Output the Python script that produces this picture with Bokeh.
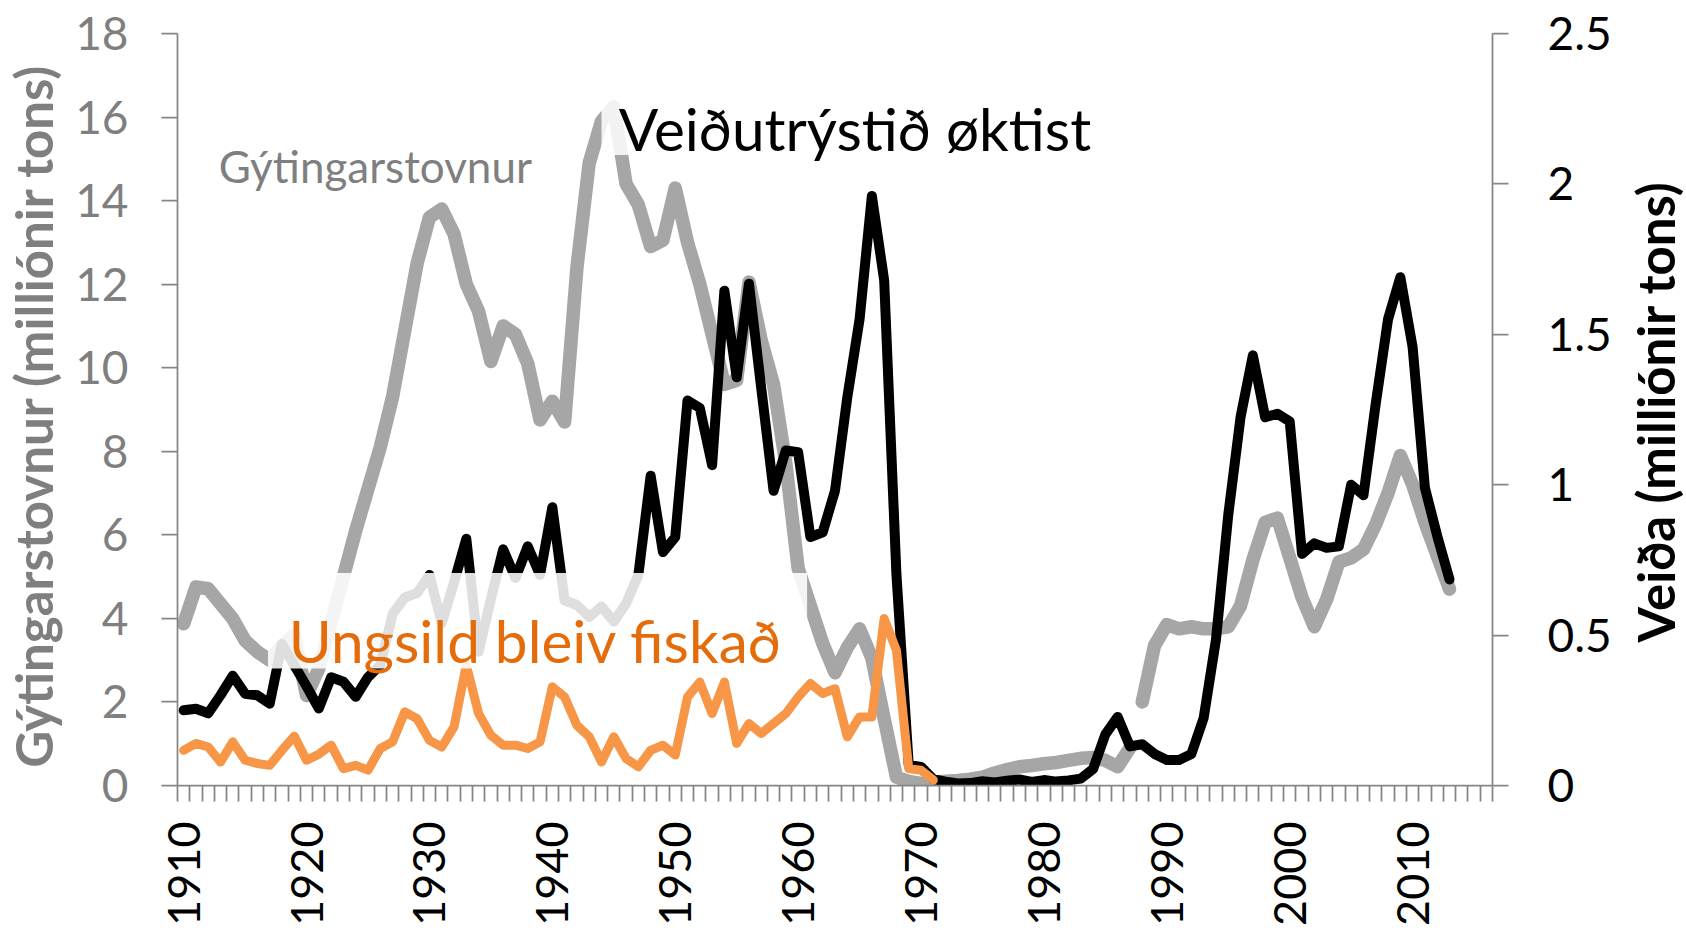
import math
from bokeh.plotting import figure
from bokeh.layouts import row
from bokeh.models import Range1d, LinearAxis, FixedTicker, Label, BoxAnnotation
from bokeh.embed import file_html
from bokeh.resources import INLINE

# ---------------- data ----------------
years = list(range(1910, 2014))

# Spawning stock (Gýtingarstovnur), million tonnes, left axis
stock = [
    3.87, 4.75, 4.71, 4.35, 3.99, 3.47, 3.20, 3.0, 3.35, 3.6,      # 1910-1919
    2.15, 2.8, 3.9, 5.0, 6.1, 7.1, 8.1, 9.3, 10.9, 12.5,           # 1920-1929
    13.6, 13.8, 13.2, 12.0, 11.35, 10.15, 11.0, 10.8, 10.1, 8.75,  # 1930-1939
    9.2, 8.7, 12.4, 14.9, 15.9, 16.25, 14.4, 13.9, 12.9, 13.05,    # 1940-1949
    14.3, 13.0, 12.0, 10.8, 9.6, 9.7, 12.05, 10.65, 9.6, 7.7,      # 1950-1959
    5.2, 4.3, 3.4, 2.7, 3.3, 3.75, 3.05, 1.6, 0.2, 0.1,            # 1960-1969
    0.05, 0.08, 0.1, 0.12, 0.15, 0.2, 0.3, 0.38, 0.45, 0.48,       # 1970-1979
    0.52, 0.55, 0.6, 0.65, 0.67, 0.6, 0.45, 0.9, 2.0, 3.35,        # 1980-1989
    3.85, 3.75, 3.8, 3.75, 3.75, 3.8, 4.3, 5.4, 6.3, 6.4,          # 1990-1999
    5.45, 4.5, 3.8, 4.45, 5.35, 5.45, 5.65, 6.25, 7.0, 7.9,        # 2000-2009
    7.2, 6.3, 5.5, 4.7,                                            # 2010-2013
]
stock_break_year = 1988  # the stock series restarts here (gap in the line)

# Catch (Veiða), million tonnes, right axis
catch = [
    0.25, 0.255, 0.24, 0.30, 0.365, 0.305, 0.30, 0.272, 0.47, 0.40,
    0.33, 0.256, 0.36, 0.345, 0.295, 0.36, 0.40, 0.57, 0.625, 0.64,
    0.70, 0.54, 0.675, 0.82, 0.445, 0.62, 0.785, 0.69, 0.795, 0.70,
    0.925, 0.615, 0.60, 0.56, 0.595, 0.545, 0.605, 0.70, 1.03, 0.776,
    0.826, 1.28, 1.255, 1.065, 1.645, 1.357, 1.668, 1.32, 0.98, 1.114,
    1.108, 0.826, 0.842, 0.98, 1.29, 1.55, 1.96, 1.68, 0.70, 0.068,
    0.062, 0.021, 0.013, 0.007, 0.008, 0.014, 0.01, 0.016, 0.02, 0.012,
    0.018, 0.013, 0.017, 0.023, 0.055, 0.17, 0.228, 0.13, 0.137, 0.105,
    0.085, 0.085, 0.105, 0.225, 0.485, 0.9, 1.225, 1.43, 1.224, 1.236,
    1.21, 0.77, 0.805, 0.79, 0.795, 1.0, 0.965, 1.27, 1.55, 1.69,
    1.457, 0.99, 0.83, 0.685,
]

# Juvenile catch (Ungsild), million tonnes, right axis
juv_years = list(range(1910, 1972))
juv_catch = [
    0.117, 0.14, 0.128, 0.078, 0.145, 0.084, 0.073, 0.067, 0.117, 0.164,
    0.084, 0.104, 0.134, 0.056, 0.067, 0.051, 0.123, 0.145, 0.245, 0.222,
    0.15, 0.128, 0.195, 0.40, 0.239, 0.167, 0.134, 0.134, 0.123, 0.145,
    0.328, 0.294, 0.20, 0.162, 0.078, 0.162, 0.09, 0.062, 0.117, 0.134,
    0.101, 0.294, 0.344, 0.239, 0.344, 0.14, 0.206, 0.173, 0.206, 0.239,
    0.294, 0.339, 0.306, 0.322, 0.162, 0.228, 0.228, 0.555, 0.449, 0.056,
    0.051, 0.018,
]

left_ticks = [0, 2, 4, 6, 8, 10, 12, 14, 16, 18]
right_ticks = [0, 0.5, 1, 1.5, 2, 2.5]
right_tick_labels = ["0", "0.5", "1", "1.5", "2", "2.5"]
decade_ticks = list(range(1910, 2011, 10))
first_year, last_cat_year = 1910, 2016

left_title = "Gýtingarstovnur  (milliónir tons)"
right_title = "Veiða (milliónir tons)"
note_stock = "Gýtingarstovnur"
note_pressure = "Veiðutrýstið øktist"
note_juvenile = "Ungsild bleiv fiskað"

# ---------------- styling ----------------
FONT = "Lato"
AX = "#868686"
GRAY_TXT = "#7F7F7F"
GRAY_LINE = "#A6A6A6"
ORANGE_LINE = "#F79646"
ORANGE_TXT = "#E46C0A"

BT, BB = 33, 145   # top / bottom borders shared by both panels

p = figure(width=1614, height=930,
           x_range=Range1d(first_year - 0.5, last_cat_year + 0.5),
           y_range=Range1d(0, 18),
           output_backend="svg", toolbar_location=None,
           min_border_left=177, min_border_right=120,
           min_border_top=BT, min_border_bottom=BB)
p.extra_y_ranges = {"catch": Range1d(0, 2.5)}
p.grid.visible = False
p.outline_line_color = None
p.background_fill_color = "white"
p.border_fill_color = "white"

# x axis: category boundaries get tick marks, decades get labels
xa = p.xaxis[0]
xa.ticker = FixedTicker(ticks=decade_ticks,
                        minor_ticks=[y - 0.5 for y in range(first_year, last_cat_year + 2)])
xa.axis_line_color = AX
xa.axis_line_width = 1.75
xa.major_tick_out = 0
xa.major_tick_in = 0
xa.minor_tick_out = 16
xa.minor_tick_in = 0
xa.minor_tick_line_color = AX
xa.minor_tick_line_width = 1.75
xa.major_label_orientation = math.pi / 2
xa.major_label_standoff = 20
xa.major_label_text_font = FONT
xa.major_label_text_font_size = "45px"
xa.major_label_text_color = "black"

# left axis
ya = p.yaxis[0]
ya.ticker = FixedTicker(ticks=left_ticks, minor_ticks=[])
ya.axis_line_color = AX
ya.axis_line_width = 1.75
ya.major_tick_out = 16
ya.major_tick_in = 0
ya.major_tick_line_color = AX
ya.major_tick_line_width = 1.75
ya.minor_tick_out = 0
ya.minor_tick_in = 0
ya.major_label_standoff = 33
ya.major_label_text_font = FONT
ya.major_label_text_font_size = "46px"
ya.major_label_text_color = GRAY_TXT
ya.axis_label = left_title
ya.axis_label_standoff = 8
ya.axis_label_text_font = FONT
ya.axis_label_text_font_style = "bold"
ya.axis_label_text_font_size = "51px"
ya.axis_label_text_color = GRAY_TXT

# right axis (its title is drawn in the narrow panel next to the chart)
ra = LinearAxis(y_range_name="catch",
                ticker=FixedTicker(ticks=right_ticks, minor_ticks=[]),
                major_label_overrides=dict(zip(right_ticks, right_tick_labels)))
ra.axis_line_color = AX
ra.axis_line_width = 1.75
ra.major_tick_out = 16
ra.major_tick_in = 0
ra.major_tick_line_color = AX
ra.major_tick_line_width = 1.75
ra.minor_tick_out = 0
ra.minor_tick_in = 0
ra.major_label_standoff = 39
ra.major_label_text_font = FONT
ra.major_label_text_font_size = "46px"
ra.major_label_text_color = "black"
p.add_layout(ra, "right")

# ---------------- series ----------------
cut = years.index(stock_break_year)
for xs, ys in ((years[:cut], stock[:cut]), (years[cut:], stock[cut:])):
    p.line(xs, ys, line_width=13.5, line_color=GRAY_LINE,
           line_join="round", line_cap="round")
p.line(years, catch, y_range_name="catch", line_width=10, line_color="black",
       line_join="round", line_cap="round")
p.line(juv_years, juv_catch, y_range_name="catch", line_width=9,
       line_color=ORANGE_LINE, line_join="round", line_cap="round")

# ---------------- annotations (semi-opaque text boxes) ----------------
p.add_layout(BoxAnnotation(left=1916.86, right=1960.73, bottom=2.80, top=5.085,
                           fill_color="white", fill_alpha=0.87,
                           line_alpha=0, level="annotation"))
p.add_layout(BoxAnnotation(left=1944.0, right=1985.3, bottom=15.09, top=17.6,
                           fill_color="white", fill_alpha=0.85,
                           line_alpha=0, level="annotation"))

p.add_layout(Label(x=1925.6, y=14.84, text=note_stock, text_align="center",
                   text_baseline="alphabetic", text_font=FONT,
                   text_font_size="44px", text_color=GRAY_TXT))
p.add_layout(Label(x=1964.62, y=15.75, text=note_pressure, text_align="center",
                   text_baseline="alphabetic", text_font=FONT,
                   text_font_size="58.5px", text_color="black"))
p.add_layout(Label(x=1938.63, y=3.475, text=note_juvenile, text_align="center",
                   text_baseline="alphabetic", text_font=FONT,
                   text_font_size="58.5px", text_color=ORANGE_TXT))

# ---------------- right axis title, reading bottom-to-top ----------------
t = figure(width=72, height=930, x_range=Range1d(0, 1), y_range=Range1d(0, 1),
           output_backend="svg", toolbar_location=None,
           x_axis_location=None, y_axis_location=None,
           min_border_left=0, min_border_right=0,
           min_border_top=BT, min_border_bottom=BB)
t.grid.visible = False
t.outline_line_color = None
t.background_fill_color = "white"
t.border_fill_color = "white"
t.add_layout(Label(x=0.57, y=0.497, text=right_title, angle=math.pi / 2,
                   text_align="center", text_baseline="middle", text_font=FONT,
                   text_font_style="bold", text_font_size="51px",
                   text_color="black"))

layout = row(p, t)
open("out.html", "w").write(file_html(layout, INLINE))
